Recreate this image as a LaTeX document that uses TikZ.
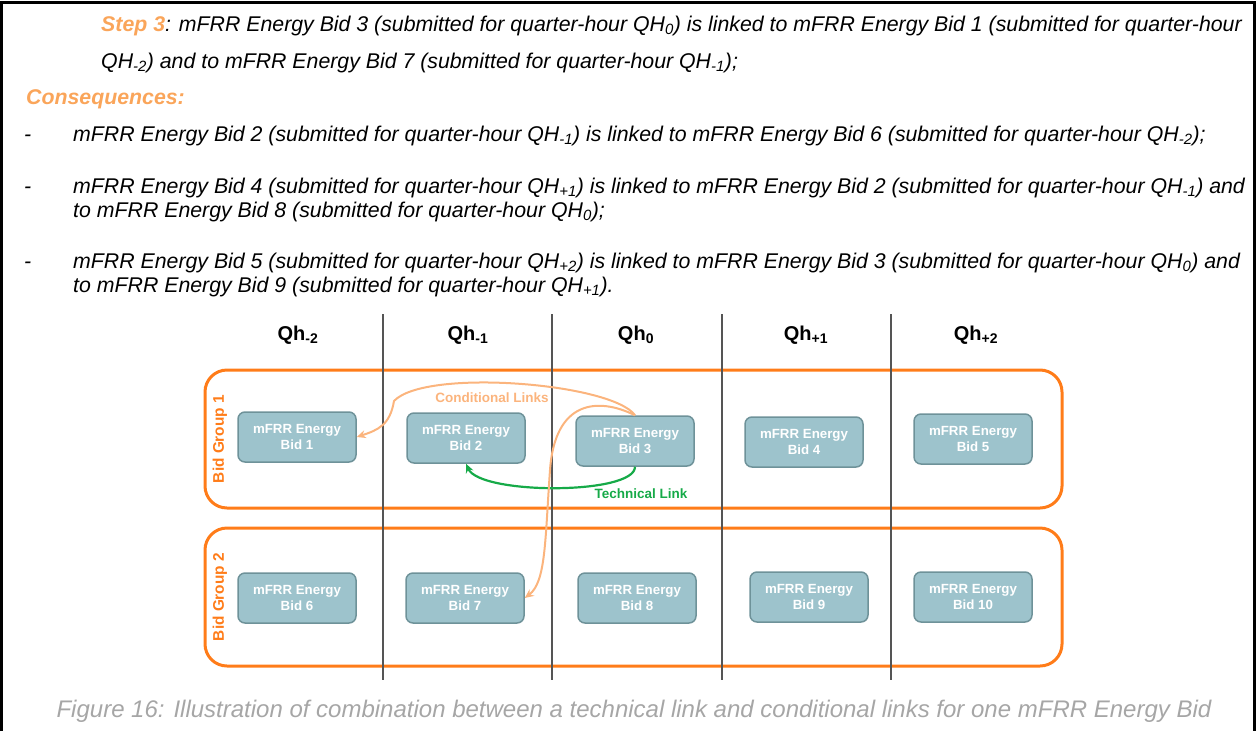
\documentclass[tikz,border=0pt]{standalone}
\usepackage{fontspec}
\setmainfont{Liberation Sans}
\usetikzlibrary{arrows.meta}
\definecolor{steporange}{RGB}{250,165,90}
\definecolor{grporange}{RGB}{255,124,25}
\definecolor{linkorange}{RGB}{251,180,125}
\definecolor{techgreen}{RGB}{22,170,72}
\definecolor{bidfill}{RGB}{157,195,204}
\definecolor{bidedge}{RGB}{110,146,153}
\definecolor{capgray}{RGB}{166,166,166}
\definecolor{divgray}{RGB}{85,85,85}
\begin{document}
\begin{tikzpicture}[x=1pt,y=-1pt,
	txt/.style={anchor=base west,inner sep=0,font=\itshape\fontsize{21.3}{24}\selectfont},
	hdr/.style={inner sep=0,font=\bfseries\fontsize{20}{22}\selectfont},
	bidbox/.style={draw=bidedge,fill=bidfill,line width=1.5,rounded corners=7,minimum width=118,minimum height=50,align=center,text=white,font=\bfseries\fontsize{13.3}{16.5}\selectfont},
	grpbox/.style={draw=grporange,line width=3,rounded corners=22,minimum width=857,minimum height=138},
	grplabel/.style={rotate=90,text=grporange,font=\bfseries\fontsize{15.4}{17}\selectfont},
	condlink/.style={draw=linkorange,line width=2,-{Stealth[length=9,width=8]}},
	techlink/.style={draw=techgreen,line width=2.2,-{Stealth[length=9,width=8]}}]
	\useasboundingbox (0,0) rectangle (1257,731);
	\draw [line width=2.5] (1.5,731) -- (1.5,2.5) -- (1254.5,2.5) -- (1254.5,731);
	
	% text above the figure
	\node[txt] (l1) at (101,31.5) {\textcolor{steporange}{\bfseries Step 3}: mFRR Energy Bid 3 (submitted for quarter-hour QH\textsubscript{0}) is linked to mFRR Energy Bid 1 (submitted for quarter-hour};
	\node[txt] (l2) at (101,68.5) {QH\textsubscript{-2}) and to mFRR Energy Bid 7 (submitted for quarter-hour QH\textsubscript{-1});};
	\node[txt,text=steporange,font=\bfseries\itshape\fontsize{21.3}{24}\selectfont] (cons) at (26,104.5) {Consequences:};
	\node[txt] (d1) at (24,141) {-};
	\node[txt] (l4) at (73,141) {mFRR Energy Bid 2 (submitted for quarter-hour QH\textsubscript{-1}) is linked to mFRR Energy Bid 6 (submitted for quarter-hour QH\textsubscript{-2});};
	\node[txt] (d2) at (24,193.5) {-};
	\node[txt] (l5) at (73,193.5) {mFRR Energy Bid 4 (submitted for quarter-hour QH\textsubscript{+1}) is linked to mFRR Energy Bid 2 (submitted for quarter-hour QH\textsubscript{-1}) and};
	\node[txt] (l6) at (73,217.5) {to mFRR Energy Bid 8 (submitted for quarter-hour QH\textsubscript{0});};
	\node[txt] (d3) at (24,268.5) {-};
	\node[txt] (l7) at (73,268.5) {mFRR Energy Bid 5 (submitted for quarter-hour QH\textsubscript{+2}) is linked to mFRR Energy Bid 3 (submitted for quarter-hour QH\textsubscript{0}) and};
	\node[txt] (l8) at (73,292) {to mFRR Energy Bid 9 (submitted for quarter-hour QH\textsubscript{+1}).};
	
	% quarter-hours
	\node[hdr] (qhm2) at (298,335) {Qh\textsubscript{-2}};
	\node[hdr] (qhm1) at (468,335) {Qh\textsubscript{-1}};
	\node[hdr] (qh0) at (636,335) {Qh\textsubscript{0}};
	\node[hdr] (qhp1) at (806,335) {Qh\textsubscript{+1}};
	\node[hdr] (qhp2) at (976,335) {Qh\textsubscript{+2}};
	
	% bid groups
	\node[grpbox] (grp1) at (633.5,439) {};
	\node[grpbox] (grp2) at (633.5,597) {};
	\node[grplabel] (grp1lab) at (220,439) {Bid Group 1};
	\node[grplabel] (grp2lab) at (220,597) {Bid Group 2};
	
	\draw [divgray,line width=1.5] (383,314) -- (383,680);
	\draw [divgray,line width=1.5] (552,314) -- (552,680);
	\draw [divgray,line width=1.5] (722,314) -- (722,680);
	\draw [divgray,line width=1.5] (891,314) -- (891,680);
	
	% bids
	\node[bidbox] (bid1) at (297,437) {mFRR Energy\\Bid 1};
	\node[bidbox] (bid2) at (466,438) {mFRR Energy\\Bid 2};
	\node[bidbox] (bid3) at (635,441) {mFRR Energy\\Bid 3};
	\node[bidbox] (bid4) at (804,442) {mFRR Energy\\Bid 4};
	\node[bidbox] (bid5) at (973,439) {mFRR Energy\\Bid 5};
	\node[bidbox] (bid6) at (297,598) {mFRR Energy\\Bid 6};
	\node[bidbox] (bid7) at (465,598) {mFRR Energy\\Bid 7};
	\node[bidbox] (bid8) at (637,598) {mFRR Energy\\Bid 8};
	\node[bidbox] (bid9) at (809,597) {mFRR Energy\\Bid 9};
	\node[bidbox] (bid10) at (973,597) {mFRR Energy\\Bid 10};
	
	% links
	\draw [techlink] (bid3.south) .. controls (635,495) and (480,495) .. (bid2.south);
	\node[text=techgreen,font=\bfseries\fontsize{13.5}{15}\selectfont] (techlab) at (641,494) {Technical Link};
	\draw [condlink] (bid3.north) .. controls (612,383) and (425,368) .. (394,401) .. controls (390,425) and (378,430) .. (bid1.east);
	\draw [condlink] (bid3.north) .. controls (598,397) and (555,400) .. (550,470) .. controls (545,540) and (546,582) .. (bid7.east);
	\node[text=linkorange,font=\bfseries\fontsize{13.5}{15}\selectfont] (condlab) at (492,398) {Conditional Links};
	
	\node[text=capgray,font=\itshape\fontsize{24}{27}\selectfont] (cap) at (634,711) {Figure 16: Illustration of combination between a technical link and conditional links for one mFRR Energy Bid};
\end{tikzpicture}
\end{document}
